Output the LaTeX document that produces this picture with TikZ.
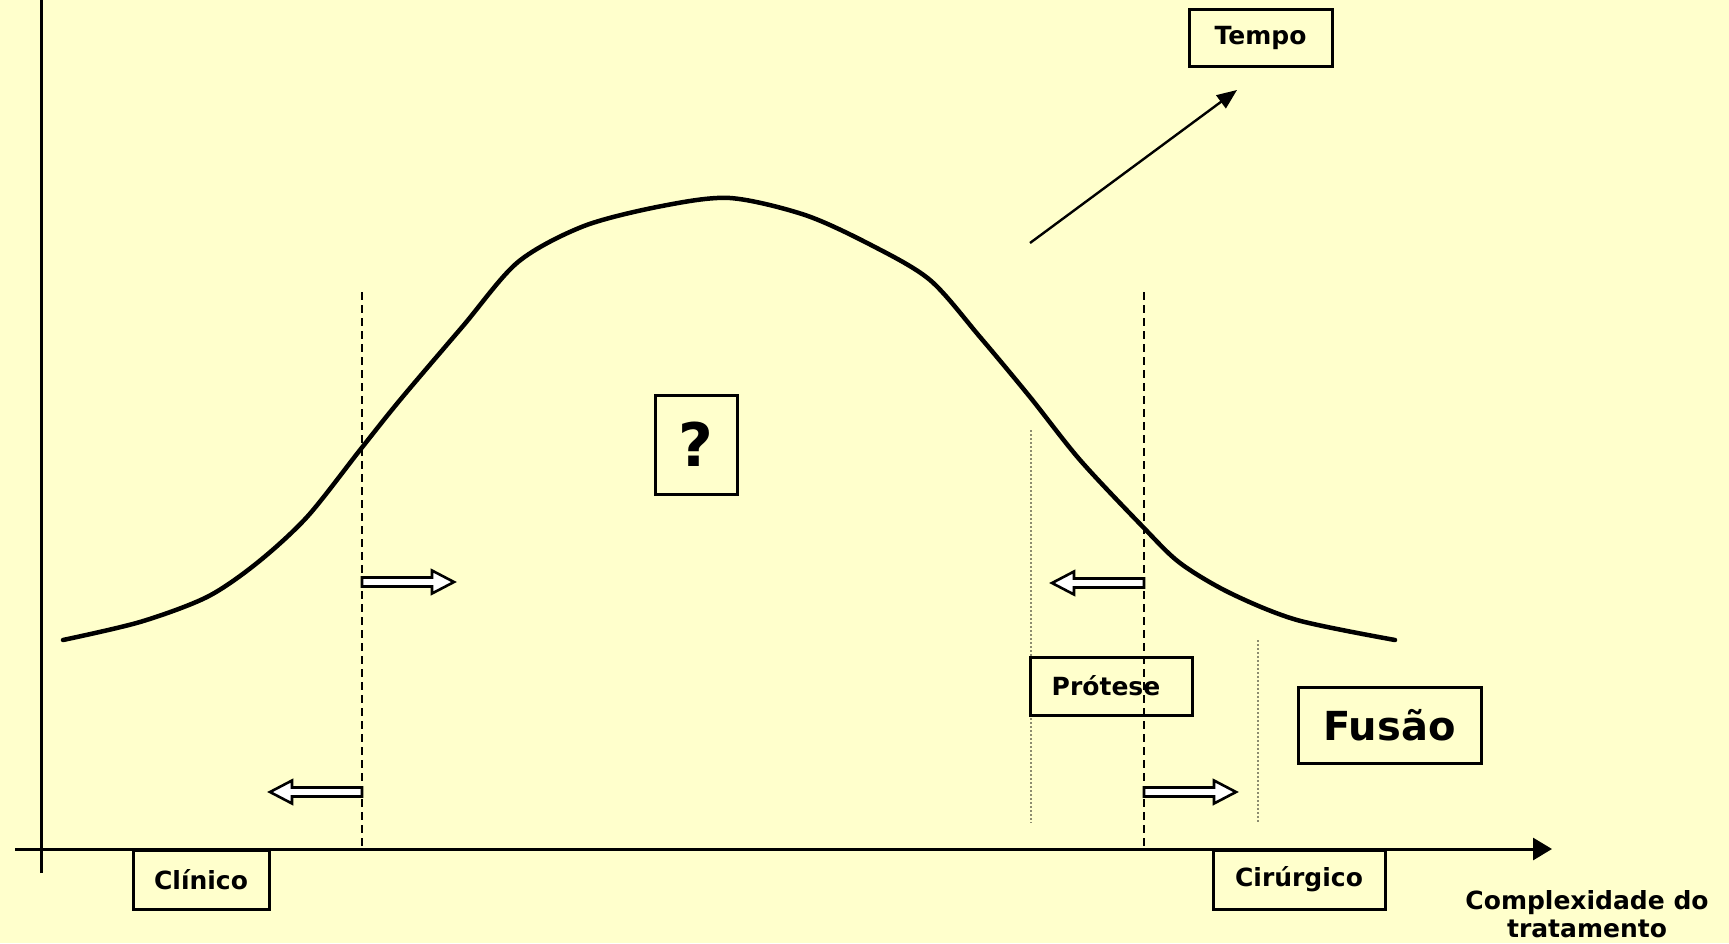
\documentclass[tikz,border=0pt]{standalone}
\usepackage{fontspec}
\setmainfont{DejaVu Sans}
\usetikzlibrary{arrows.meta}
\definecolor{bg}{HTML}{FFFFCC}
\definecolor{dotc}{HTML}{8C8C70}
\begin{document}
\begin{tikzpicture}[x=1pt,y=-1pt,
  box/.style={draw, line width=3pt, inner sep=0pt, font=\bfseries\fontsize{25}{28}\selectfont},
  axisline/.style={line width=3pt},
  dashv/.style={line width=2.6pt, dash pattern=on 8pt off 5pt},
  dotv/.style={line width=2.4pt, draw=dotc, dash pattern=on 2pt off 2pt},
  curveline/.style={line width=4.5pt, line join=round, line cap=round},
  hollowarrow/.pic={\draw[line width=2.6pt, fill=white, line join=miter]
     (0,-4.5) -- (70,-4.5) -- (70,-11.5) -- (92,0) -- (70,11.5) -- (70,4.5) -- (0,4.5) -- cycle;}
]
\useasboundingbox[fill=bg] (0,0) rectangle (1729,943);

% axes
\coordinate (yb) at (41,873);
\coordinate (yt) at (41,-5);
\coordinate (xl) at (15,849);
\coordinate (xr) at (1552,849);
\draw[axisline] (yb) -- (yt);
\draw[axisline, -{Triangle[length=19pt,width=22pt]}] (xl) -- (xr);

% dotted verticals
\coordinate (d1t) at (1031,430); \coordinate (d1b) at (1031,823);
\coordinate (d2t) at (1258,640); \coordinate (d2b) at (1258,823);
\draw[dotv] (d1t) -- (d1b);
\draw[dotv] (d2t) -- (d2b);

% bell curve
\draw[curveline] plot[smooth, tension=0.5] coordinates {
 (63,640) (140,622) (207,597) (257,563) (307,517) (360,450) (400,400)
 (463,326) (518,262) (584,226) (662,206) (730,198) (805,215) (871,245)
 (930,280) (980,337) (1030,397) (1080,460) (1143,527) (1180,563)
 (1230,593) (1297,620) (1395,640)};

% dashed verticals
\coordinate (l1t) at (362,292); \coordinate (l1b) at (362,849);
\coordinate (l2t) at (1144,292); \coordinate (l2b) at (1144,849);
\draw[dashv] (l1t) -- (l1b);
\draw[dashv] (l2t) -- (l2b);

% hollow arrows
\pic at (362,582) {hollowarrow};
\pic[xscale=-1] at (362,792) {hollowarrow};
\pic[xscale=-1] at (1144,583) {hollowarrow};
\pic at (1144,792) {hollowarrow};

% boxes
\node[box, minimum width=143pt, minimum height=57pt] (tempo) at (1260.5,37.5) {Tempo};
\node[box, minimum width=82pt, minimum height=99pt, font=\bfseries\fontsize{60}{60}\selectfont] (q) at (696,444.5) {?};
\node[box, minimum width=162pt, minimum height=58pt] (protese) at (1111,686) {\hspace*{-10pt}Prótese};
\node[box, minimum width=183pt, minimum height=76pt, font=\bfseries\fontsize{40}{44}\selectfont] (fusao) at (1389.5,725) {Fusão};
\node[box, minimum width=136pt, minimum height=59pt] (clinico) at (201,879.5) {Clínico};
\node[box, minimum width=172pt, minimum height=59pt] (cirurgico) at (1299,879.5) {Cirúrgico};
\node[inner sep=0pt, align=center, font=\bfseries\fontsize{25}{28}\selectfont] (xlabel) at (1587,914) {Complexidade do\\tratamento};

% tempo arrow
\coordinate (ts) at (1030,243);
\coordinate (te) at (1237,90);
\draw[line width=2.4pt, -{Triangle[length=20pt,width=16pt]}] (ts) -- (te);
\end{tikzpicture}
\end{document}
